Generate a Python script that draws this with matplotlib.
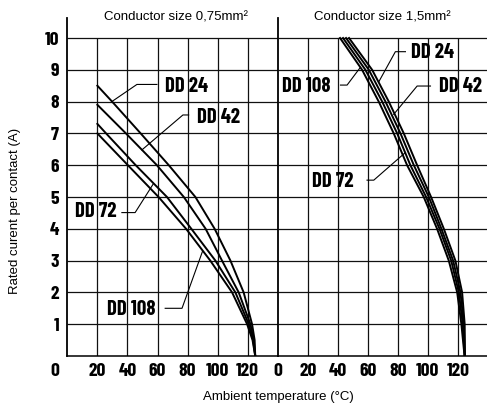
import matplotlib
matplotlib.use("Agg")
import matplotlib.pyplot as plt

# each series has its own start point, so keep (T, I) lists
left_T = {
    "DD 24": [20, 29.8, 48.8, 67.5, 85.2, 98, 108.5, 117.3, 122.9, 124.6, 125],
    "DD 42": [20, 39, 59.6, 77.5, 92, 102.9, 114, 121.8, 124.0, 125],
    "DD 72": [20, 25.8, 45.5, 66.3, 82.5, 98.5, 111.8, 120.7, 123.6, 125],
    "DD 108": [20, 40.3, 60.7, 79, 95.1, 109.6, 119.6, 123.2, 125],
}
left_I = {
    "DD 24": [8.5, 8.0, 7.0, 6.0, 5.0, 4.0, 3.0, 2.0, 1.0, 0.5, 0.0],
    "DD 42": [7.9, 7.0, 6.0, 5.0, 4.0, 3.0, 2.0, 1.0, 0.5, 0.0],
    "DD 72": [7.3, 7.0, 6.0, 5.0, 4.0, 3.0, 2.0, 1.0, 0.5, 0.0],
    "DD 108": [7.0, 6.0, 5.0, 4.0, 3.0, 2.0, 1.0, 0.5, 0.0],
}

right_I = [10, 9, 8, 7, 6, 5, 4, 3, 2, 1, 0]
right_T = {
    "DD 108": [41.5, 56.2, 67.3, 77.3, 86.2, 97.3, 106.2, 114, 119.6, 122.4, 124.5],
    "DD 72": [43.5, 58.4, 69.6, 79.6, 88.4, 98.9, 107.8, 115.6, 120.7, 123.3, 124.6],
    "DD 42": [45.5, 60.7, 71.8, 81.8, 90.7, 100.7, 109.1, 116.9, 121.8, 124.0, 124.7],
    "DD 24": [47.5, 62.9, 74, 84, 92.9, 102.2, 110.7, 118.4, 122.9, 124.6, 124.8],
}

x_ticks = [20, 40, 60, 80, 100, 120]
y_ticks = [1, 2, 3, 4, 5, 6, 7, 8, 9, 10]

# label text position (left edge, middle) and leader polyline
left_labels = {
    "DD 24": ((65.1, 8.49), [(59.6, 8.54), (46.3, 8.54), (29.6, 8.0)]),
    "DD 42": ((86.5, 7.5), [(80.7, 7.58), (76.9, 7.58), (49.6, 6.48)]),
    "DD 72": ((5.1, 4.53), [(36.3, 4.51), (45.1, 4.51), (57.3, 5.42)]),
    "DD 108": ((26.5, 1.45), [(65.1, 1.5), (76.3, 1.5), (90, 3.3)]),
}
right_labels = {
    "DD 24": ((88.5, 9.53), [(85.1, 9.57), (78.4, 9.57), (67.3, 8.62)]),
    "DD 108": ((2.7, 8.49), [(41.8, 8.52), (46.2, 8.52), (55.1, 9.08)]),
    "DD 42": ((107.3, 8.46), [(101.8, 8.49), (92.9, 8.49), (77.3, 7.6)]),
    "DD 72": ((22.7, 5.5), [(59.5, 5.53), (64, 5.53), (85.1, 6.4)]),
}

bold_font = ["Barlow Condensed", "Archivo Narrow", "DejaVu Sans"]
plain_font = ["Liberation Sans", "DejaVu Sans"]
TICK = 14
LAB = 15


def style_labels(labels):
    for lab in labels:
        lab.set_family(bold_font)
        lab.set_weight("bold")
        lab.set_fontsize(TICK)


fig = plt.figure(figsize=(4.87, 4.05), dpi=100)
ax1 = fig.add_axes([0.1382, 0.121, 0.4322, 0.8346])
ax2 = fig.add_axes([0.5704, 0.121, 0.4312, 0.8346])

for ax in (ax1, ax2):
    ax.set_xlim(0, 140)
    ax.set_ylim(0, 10.63)
    ax.hlines(y_ticks, 0, 140, color="#111111", lw=0.9, zorder=1)
    ax.vlines(x_ticks, 0, 10, color="#111111", lw=0.9, zorder=1)
    for s in ("top", "right"):
        ax.spines[s].set_visible(False)
    ax.spines["left"].set_linewidth(1.3)
    ax.spines["bottom"].set_linewidth(1.1)
    ax.tick_params(length=0, pad=5)

ax1.set_xticks(x_ticks)
style_labels(ax1.get_xticklabels())
ax2.set_xticks([0] + x_ticks)
style_labels(ax2.get_xticklabels())

ax1.set_yticks(y_ticks)
ax1.tick_params(axis="y", pad=6)
style_labels(ax1.get_yticklabels())
ax2.set_yticks([])
ax1.text(-8.2, -0.22, "0", ha="center", va="top", family=bold_font,
         weight="bold", fontsize=TICK)

for name in left_T:
    ax1.plot(left_T[name], left_I[name], color="black", lw=1.4, zorder=3)
for name in right_T:
    ax2.plot(right_T[name], right_I, color="black", lw=1.4, zorder=3)

for ax, labels in ((ax1, left_labels), (ax2, right_labels)):
    for name, (pos, leader) in labels.items():
        ax.text(pos[0], pos[1], name, ha="left", va="center", family=bold_font,
                weight="bold", fontsize=LAB, zorder=4)
        xs = [p[0] for p in leader]
        ys = [p[1] for p in leader]
        ax.plot(xs, ys, color="black", lw=0.8, zorder=3)

ax1.text(72, 10.63, "Conductor size 0,75mm²", ha="center", va="center",
         family=plain_font, fontsize=9.5)
ax2.text(70, 10.63, "Conductor size 1,5mm²", ha="center", va="center",
         family=plain_font, fontsize=9.5)

fig.text(0.571, 0.004, "Ambient temperature (°C)", ha="center", va="bottom",
         family=plain_font, fontsize=9.5)
fig.text(0.03, 0.48, "Rated curent per contact (A)", ha="center", va="center",
         rotation=90, family=plain_font, fontsize=9.5)

fig.savefig("out.png", dpi=100)
